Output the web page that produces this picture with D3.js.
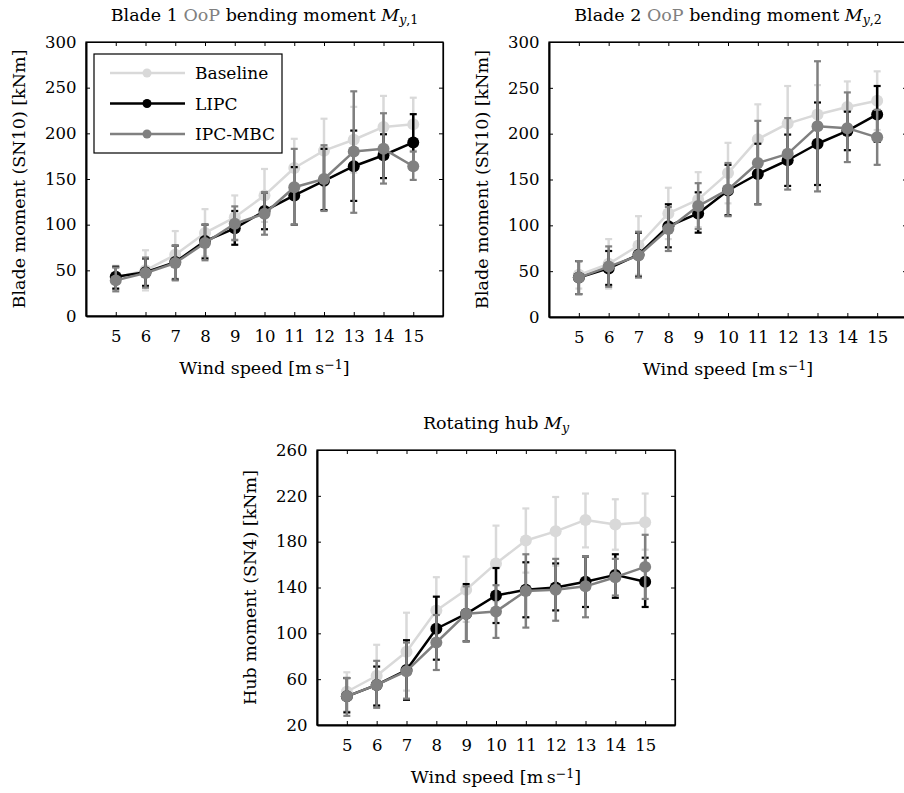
<!DOCTYPE html>
<html>
<head>
<meta charset="utf-8">
<script src="https://cdn.jsdelivr.net/npm/d3@7/dist/d3.min.js"></script>
<style>
  html, body { margin: 0; padding: 0; background: #fff; }
  svg { display: block; }
  text { font-family: "DejaVu Serif", serif; fill: #000; }
</style>
</head>
<body>
<script>
// Wind speed bins [m/s]
const windSpeed = [5, 6, 7, 8, 9, 10, 11, 12, 13, 14, 15];
const bladeTicks = [0, 50, 100, 150, 200, 250, 300];
const hubTicks = [20, 60, 100, 140, 180, 220, 260];
const seriesNames = ["Baseline", "LIPC", "IPC-MBC"];
const seriesColors = ["#d9d9d9", "#000000", "#808080"];

// Blade 1 flap-wise moment (SN10) [kNm]: mean, lower and upper bounds
const b1Base   = [42, 50, 67, 91, 108, 132, 162, 181, 193, 207, 210];
const b1BaseLo = [29, 28, 41, 65, 84, 103, 130, 146, 157, 173, 181];
const b1BaseHi = [55, 72, 93, 117, 132, 161, 194, 216, 229, 241, 239];
const b1Lipc   = [43, 48, 59, 82, 96, 115, 132, 148, 164, 176, 190];
const b1LipcLo = [30, 33, 40, 63, 78, 95, 100, 116, 126, 151, 160];
const b1LipcHi = [54, 63, 77, 100, 115, 135, 163, 183, 203, 199, 221];
const b1Mbc    = [39, 47, 58, 80, 101, 112, 141, 150, 180, 183, 164];
const b1MbcLo  = [27, 31, 39, 61, 83, 89, 100, 115, 113, 145, 149];
const b1MbcHi  = [53, 64, 77, 100, 120, 135, 183, 187, 246, 222, 180];

// Blade 2 flap-wise moment (SN10) [kNm]
const b2Base   = [46, 58, 78, 113, 128, 157, 194, 211, 221, 229, 236];
const b2BaseLo = [31, 31, 46, 85, 98, 124, 156, 170, 189, 201, 204];
const b2BaseHi = [61, 85, 110, 141, 158, 190, 232, 252, 253, 257, 268];
const b2Lipc   = [43, 53, 68, 99, 113, 138, 156, 171, 189, 203, 221];
const b2LipcLo = [25, 35, 44, 76, 92, 111, 123, 143, 144, 182, 191];
const b2LipcHi = [61, 72, 92, 123, 136, 166, 189, 199, 234, 224, 252];
const b2Mbc    = [43, 55, 67, 96, 121, 139, 168, 178, 208, 206, 196];
const b2MbcLo  = [25, 33, 43, 72, 96, 110, 123, 139, 137, 169, 166];
const b2MbcHi  = [61, 77, 93, 120, 146, 168, 214, 217, 279, 245, 226];

// Rotating hub moment (SN4) [kNm]
const hubBase   = [49, 63, 84, 120, 138, 161, 181, 189, 199, 195, 197];
const hubBaseLo = [32, 36, 50, 91, 110, 128, 153, 159, 175, 173, 173];
const hubBaseHi = [66, 90, 118, 149, 167, 194, 209, 219, 222, 217, 222];
const hubLipc   = [45, 55, 68, 104, 117, 133, 138, 140, 145, 151, 145];
const hubLipcLo = [31, 37, 42, 77, 93, 109, 114, 120, 123, 131, 123];
const hubLipcHi = [61, 71, 94, 132, 143, 157, 162, 161, 167, 169, 166];
const hubMbc    = [45, 55, 67, 92, 117, 119, 137, 138, 141, 149, 158];
const hubMbcLo  = [28, 35, 43, 68, 93, 96, 105, 111, 114, 133, 130];
const hubMbcHi  = [61, 76, 92, 116, 141, 142, 169, 165, 167, 165, 186];

const W = 904, H = 793;
const FS = 17.5;      // titles and axis labels
const TICK_FS = 16.5; // tick labels

const svg = d3.select("body").append("svg")
  .attr("width", W).attr("height", H)
  .attr("viewBox", `0 0 ${W} ${H}`);
svg.append("rect").attr("width", W).attr("height", H).attr("fill", "#fff");

function series(mean, lo, hi) {
  return windSpeed.map((w, i) => ({ w, v: mean[i], lo: lo[i], hi: hi[i] }));
}

// Title with a math-style moment symbol, e.g. M_{y,1}
function drawTitle(g, x, y, parts) {
  const t = g.append("text").attr("x", x).attr("y", y)
    .attr("text-anchor", "middle").style("font-size", FS + "px");
  parts.forEach(p => {
    const s = t.append("tspan").text(p.text);
    if (p.fill) s.attr("fill", p.fill);
    if (p.italic) s.style("font-style", "italic");
    if (p.sub) s.attr("baseline-shift", "-25%").style("font-size", (FS * 0.72) + "px");
  });
}

function windLabel(g, x, y) {
  const t = g.append("text").attr("x", x).attr("y", y)
    .attr("text-anchor", "middle").style("font-size", FS + "px");
  t.append("tspan").text("Wind speed [m\u2009s");
  t.append("tspan").text("\u22121").attr("baseline-shift", "40%")
    .style("font-size", (FS * 0.72) + "px");
  t.append("tspan").text("]");
}

function drawPanel(cfg) {
  const { left, right, top, bottom, yDomain, yTicks, data, yTitle, title } = cfg;
  const x = d3.scaleLinear().domain([4, 16]).range([left, right]);
  const y = d3.scaleLinear().domain(yDomain).range([bottom, top]);
  const g = svg.append("g");

  // frame
  g.append("rect")
    .attr("x", left).attr("y", top)
    .attr("width", right - left).attr("height", bottom - top)
    .attr("fill", "none").attr("stroke", "#000").attr("stroke-width", 1.2);

  const tickLen = 4;
  // axes with inward ticks
  const axB = g.append("g").attr("transform", `translate(0,${bottom})`)
    .call(d3.axisBottom(x).tickValues(windSpeed).tickSizeInner(-tickLen).tickSizeOuter(0).tickPadding(14.5));
  const axT = g.append("g").attr("transform", `translate(0,${top})`)
    .call(d3.axisTop(x).tickValues(windSpeed).tickSizeInner(-tickLen).tickSizeOuter(0).tickFormat(""));
  const axL = g.append("g").attr("transform", `translate(${left},0)`)
    .call(d3.axisLeft(y).tickValues(yTicks).tickSizeInner(-tickLen).tickSizeOuter(0).tickPadding(9.5));
  const axR = g.append("g").attr("transform", `translate(${right},0)`)
    .call(d3.axisRight(y).tickValues(yTicks).tickSizeInner(-tickLen).tickSizeOuter(0).tickFormat(""));
  [axB, axT, axL, axR].forEach(a => {
    a.select(".domain").attr("stroke", "#000").attr("stroke-width", 1.2);
    a.selectAll(".tick line").attr("stroke", "#000").attr("stroke-width", 1);
    a.selectAll(".tick text").style("font-size", TICK_FS + "px")
      .style("font-family", "DejaVu Serif, serif").attr("fill", "#000");
  });
  axB.select(".domain").attr("stroke-width", 2);
  axL.select(".domain").attr("stroke-width", 2);

  // series: error bars, line, markers
  const line = d3.line().x(d => x(d.w)).y(d => y(d.v));
  data.forEach((s, k) => {
    const col = seriesColors[k];
    const sg = g.append("g");
    sg.selectAll("line.err").data(s).join("line")
      .attr("x1", d => x(d.w)).attr("x2", d => x(d.w))
      .attr("y1", d => y(d.lo)).attr("y2", d => y(d.hi))
      .attr("stroke", col).attr("stroke-width", 2.5);
    ["lo", "hi"].forEach(key => {
      sg.selectAll("line.cap-" + key).data(s).join("line")
        .attr("x1", d => x(d.w) - 3.5).attr("x2", d => x(d.w) + 3.5)
        .attr("y1", d => y(d[key])).attr("y2", d => y(d[key]))
        .attr("stroke", col).attr("stroke-width", 2.2);
    });
    sg.append("path").datum(s).attr("d", line)
      .attr("fill", "none").attr("stroke", col).attr("stroke-width", 2.5)
      .attr("stroke-linejoin", "round");
    sg.selectAll("circle").data(s).join("circle")
      .attr("cx", d => x(d.w)).attr("cy", d => y(d.v)).attr("r", 6)
      .attr("fill", col);
  });

  // labels
  const cx = (left + right) / 2;
  windLabel(g, cx, bottom + 58);
  g.append("text")
    .attr("transform", `translate(${left - 61},${(top + bottom) / 2}) rotate(-90)`)
    .attr("text-anchor", "middle").style("font-size", FS + "px")
    .text(yTitle);
  drawTitle(g, cx, top - 21, title);
  return { x, y, g };
}

drawPanel({
  left: 86, right: 443, top: 42, bottom: 316,
  yDomain: [0, 300], yTicks: bladeTicks,
  data: [series(b1Base, b1BaseLo, b1BaseHi), series(b1Lipc, b1LipcLo, b1LipcHi), series(b1Mbc, b1MbcLo, b1MbcHi)],
  yTitle: "Blade moment (SN10) [kNm]",
  title: [{ text: "Blade 1 " }, { text: "OoP", fill: "#808080" }, { text: " bending moment " },
          { text: "M", italic: true }, { text: "y", italic: true, sub: true }, { text: ",1", sub: true }]
});

drawPanel({
  left: 549, right: 907, top: 42, bottom: 317,
  yDomain: [0, 300], yTicks: bladeTicks,
  data: [series(b2Base, b2BaseLo, b2BaseHi), series(b2Lipc, b2LipcLo, b2LipcHi), series(b2Mbc, b2MbcLo, b2MbcHi)],
  yTitle: "Blade moment (SN10) [kNm]",
  title: [{ text: "Blade 2 " }, { text: "OoP", fill: "#808080" }, { text: " bending moment " },
          { text: "M", italic: true }, { text: "y", italic: true, sub: true }, { text: ",2", sub: true }]
});

drawPanel({
  left: 317, right: 675, top: 450, bottom: 725,
  yDomain: [20, 260], yTicks: hubTicks,
  data: [series(hubBase, hubBaseLo, hubBaseHi), series(hubLipc, hubLipcLo, hubLipcHi), series(hubMbc, hubMbcLo, hubMbcHi)],
  yTitle: "Hub moment (SN4) [kNm]",
  title: [{ text: "Rotating hub " }, { text: "M", italic: true }, { text: "y", italic: true, sub: true }]
});

// legend inside the first panel
const lg = svg.append("g");
lg.append("rect").attr("x", 94).attr("y", 54).attr("width", 188).attr("height", 99)
  .attr("fill", "#fff").attr("stroke", "#000").attr("stroke-width", 1.2);
seriesNames.forEach((name, k) => {
  const yy = 73 + k * 30.5;
  lg.append("line").attr("x1", 110).attr("x2", 185).attr("y1", yy).attr("y2", yy)
    .attr("stroke", seriesColors[k]).attr("stroke-width", 2.5);
  lg.append("circle").attr("cx", 147).attr("cy", yy).attr("r", 4.5).attr("fill", seriesColors[k]);
  lg.append("text").attr("x", 195).attr("y", yy + 6).style("font-size", "17px").text(name);
});
</script>
</body>
</html>
